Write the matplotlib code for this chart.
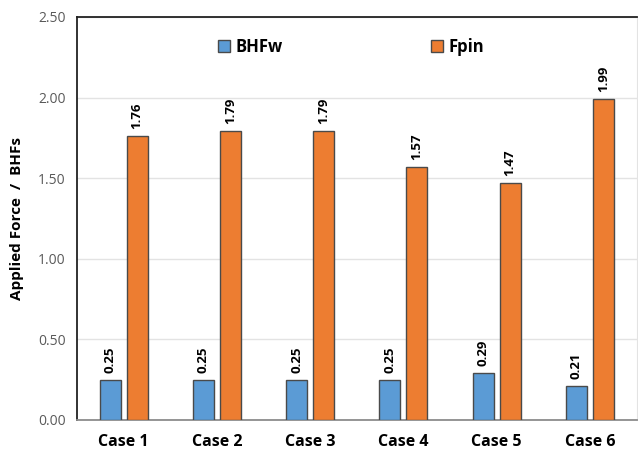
import matplotlib
matplotlib.use("Agg")
import matplotlib.pyplot as plt
import numpy as np

categories = ["Case 1", "Case 2", "Case 3", "Case 4", "Case 5", "Case 6"]
bhfw = [0.25, 0.25, 0.25, 0.25, 0.29, 0.21]
fpin = [1.76, 1.79, 1.79, 1.57, 1.47, 1.99]
yticks = [0.0, 0.5, 1.0, 1.5, 2.0, 2.5]

plt.rcParams['font.family'] = ['Open Sans', 'DejaVu Sans']

fig = plt.figure(figsize=(6.38, 4.54), dpi=100)
ax = fig.add_axes([0.1207, 0.0749, 0.877, 0.8877])

x = np.arange(len(categories))
w = 0.225
off = 0.145
blue = "#5B9BD5"
orange = "#ED7D31"
edge = "#4a4a4a"

ax.bar(x - off, bhfw, w, color=blue, edgecolor=edge, linewidth=1.0, label="BHFw", zorder=3)
ax.bar(x + off, fpin, w, color=orange, edgecolor=edge, linewidth=1.0, label="Fpin", zorder=3)

for xi, v in zip(x - off, bhfw):
    ax.annotate(f"{v:.2f}", (xi, v), xytext=(0, 5), textcoords="offset points",
                rotation=90, ha="center", va="bottom", fontsize=9.5, fontweight="bold")
for xi, v in zip(x + off, fpin):
    ax.annotate(f"{v:.2f}", (xi, v), xytext=(0, 5), textcoords="offset points",
                rotation=90, ha="center", va="bottom", fontsize=9.5, fontweight="bold")

ax.set_xlim(-0.5, len(categories) - 0.5)
ax.set_ylim(0, 2.5)
ax.set_yticks(yticks)
ax.set_yticklabels([f"{t:.2f}" for t in yticks], color="#595959", fontsize=10)
ax.set_xticks(x)
ax.set_xticklabels(categories, fontsize=11.5, fontweight="bold")
ax.tick_params(axis="both", length=0)
ax.tick_params(axis="x", pad=10)
ax.tick_params(axis="y", pad=8)

ax.yaxis.grid(True, color="#e3e3e3", linewidth=1, zorder=0)
ax.set_axisbelow(True)

ax.spines['left'].set_color("#222222")
ax.spines['left'].set_linewidth(1.3)
ax.spines['top'].set_color("#222222")
ax.spines['top'].set_linewidth(1.3)
ax.spines['bottom'].set_color("#8c8c8c")
ax.spines['bottom'].set_linewidth(1.3)
ax.spines['right'].set_color("#e3e3e3")

ax.set_ylabel("Applied Force  /  BHFs", fontsize=11, fontweight="bold", labelpad=10)

ax.legend(loc="upper center", bbox_to_anchor=(0.49, 0.985), ncol=2, frameon=False,
          handlelength=0.7, handleheight=0.7, handletextpad=0.35,
          columnspacing=8.9, prop={'weight': 'bold', 'size': 12})

fig.savefig("out.png", dpi=100)
